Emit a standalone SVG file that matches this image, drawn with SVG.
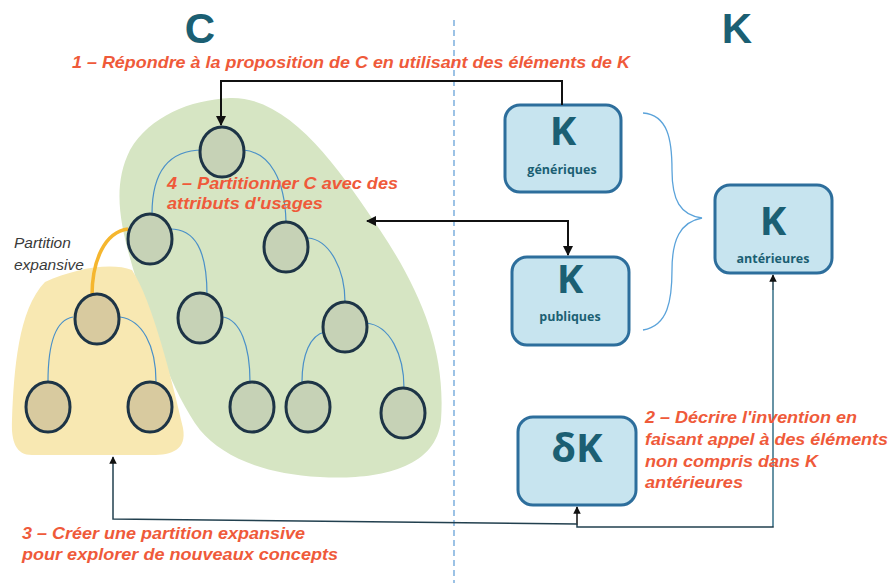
<svg xmlns="http://www.w3.org/2000/svg" width="895" height="583" viewBox="0 0 895 583">
<defs>
<style>
.title{font-family:"Liberation Sans",Arial,sans-serif;font-weight:bold;font-size:42px;fill:#1B5F73;text-anchor:middle}
.box{fill:#C7E4EF;stroke:#2D6E9C;stroke-width:3}
.bk{font-family:"Open Sans","Liberation Sans",sans-serif;font-weight:bold;font-size:40px;fill:#1B5F73;text-anchor:middle}
.bs{font-family:"Open Sans","Liberation Sans",sans-serif;font-weight:bold;font-size:12.5px;fill:#1B5F73;text-anchor:middle}
.red{font-family:"Liberation Sans",Arial,sans-serif;font-weight:bold;font-style:italic;font-size:17px;fill:#EF5A3A}
.note{font-family:"Liberation Sans",Arial,sans-serif;font-style:italic;font-size:15.5px;fill:#3A3A3A}
.cg{fill:#C6D2B6;stroke:#1D3446;stroke-width:3}
.cy{fill:#D8CA9F;stroke:#1D3446;stroke-width:3}
.arc{fill:none;stroke:#4A90C8;stroke-width:1.2}
.conn{fill:none;stroke:#111;stroke-width:2}
</style>
<marker id="ah" viewBox="0 0 10 10" refX="9" refY="5" markerWidth="5" markerHeight="5" orient="auto-start-reverse">
<path d="M0,0 L10,5 L0,10 Z" fill="#111"/>
</marker>
</defs>
<rect width="895" height="583" fill="#fff"/>

<!-- divider -->
<line x1="454" y1="20" x2="454" y2="583" stroke="#5B9BD5" stroke-width="1.2" stroke-dasharray="6,4"/>

<!-- titles -->
<text class="title" x="200" y="43">C</text>
<text class="title" x="737" y="43">K</text>

<!-- blobs -->
<g id="green-area">
<path d="M230,98 C290,96 340,170 380,230 C420,290 446,350 441,420 C436,472 370,480 320,477 C262,474 222,456 200,430 C172,392 152,332 137,282 C122,232 110,190 130,150 C150,116 190,100 230,98 Z" fill="#D6E5C3"/>
</g>
<g id="yellow-area">
<path d="M45,282 C75,268 112,262 132,270 C152,300 172,380 183,428 C187,450 172,455 152,455 L32,455 C16,455 11,442 12,420 C14,370 18,310 45,282 Z" fill="#F8E8B2"/>
</g>

<!-- tree links -->
<g id="tree-links">
<path class="arc" d="M203,150 C170,150 152,170 152,214"/>
<path class="arc" d="M243,150 C270,152 285,180 286,222"/>
<path class="arc" d="M170,229 C195,229 207,250 207,295"/>
<path class="arc" d="M223,317 C240,320 250,345 250,382"/>
<path class="arc" d="M308,238 C330,240 345,270 345,302"/>
<path class="arc" d="M325,332 C310,335 302,355 302,382"/>
<path class="arc" d="M366,323 C390,325 404,355 404,388"/>
<path class="arc" d="M73,317 C55,320 48,345 48,382"/>
<path class="arc" d="M120,317 C142,320 156,345 156,382"/>
<path d="M128,229 C105,232 92,260 92,296" fill="none" stroke="#F5B62E" stroke-width="3.5"/>
</g>

<!-- concept nodes -->
<g id="c1"><ellipse class="cg" cx="222" cy="152" rx="22" ry="25"/></g>
<g id="c2"><ellipse class="cg" cx="150" cy="239" rx="22" ry="25"/></g>
<g id="c3"><ellipse class="cg" cx="286" cy="247" rx="22" ry="25"/></g>
<g id="c4"><ellipse class="cy" cx="97" cy="319" rx="22" ry="25"/></g>
<g id="c5"><ellipse class="cg" cx="200" cy="318" rx="22" ry="25"/></g>
<g id="c6"><ellipse class="cg" cx="345" cy="327" rx="22" ry="25"/></g>
<g id="c7"><ellipse class="cy" cx="48" cy="407" rx="22" ry="25"/></g>
<g id="c8"><ellipse class="cy" cx="150" cy="407" rx="22" ry="25"/></g>
<g id="c9"><ellipse class="cg" cx="252" cy="407" rx="22" ry="25"/></g>
<g id="c10"><ellipse class="cg" cx="308" cy="407" rx="22" ry="25"/></g>
<g id="c11"><ellipse class="cg" cx="403" cy="413" rx="22" ry="25"/></g>

<!-- K boxes -->
<g id="k-generiques">
<rect class="box" x="505" y="105" width="116" height="87" rx="15"/>
<text class="bk" x="563" y="145">K</text>
<text class="bs" x="562" y="174">génériques</text>
</g>
<g id="k-publiques">
<rect class="box" x="512" y="257" width="117" height="88" rx="15"/>
<text class="bk" x="570" y="293">K</text>
<text class="bs" x="570" y="321">publiques</text>
</g>
<g id="k-anterieures">
<rect class="box" x="715" y="185" width="117" height="88" rx="15"/>
<text class="bk" x="773" y="235">K</text>
<text class="bs" x="773" y="263">antérieures</text>
</g>
<g id="delta-k">
<rect class="box" x="518" y="417" width="118" height="88" rx="15"/>
<text class="bk" x="577" y="462">δK</text>
</g>

<!-- brace -->
<path d="M643,113 C668,115 672,140 672,170 C672,200 680,215 702,218 C680,222 672,240 672,270 C672,300 668,326 643,330" fill="none" stroke="#5BA3DA" stroke-width="1.3"/>

<!-- connectors -->
<g id="connectors">
<path class="conn" d="M562,105 L562,81 L221,81 L221,125" marker-end="url(#ah)"/>
<path class="conn" d="M367,221 L568,221 L568,255" marker-start="url(#ah)" marker-end="url(#ah)"/>
<path d="M577,525 L577,507" fill="none" stroke="#111" stroke-width="1.5" marker-end="url(#ah)"/>
<path d="M577,524 L113,519 L113,457" fill="none" stroke="#22404F" stroke-width="1.5" marker-end="url(#ah)"/>
<path d="M577,525 L577,527 L773,527 L773,275" fill="none" stroke="#22404F" stroke-width="1.5" marker-end="url(#ah)"/>
<line x1="773" y1="290" x2="773" y2="526" stroke="#6D9FB5" stroke-width="1.5"/>
</g>

<!-- labels -->
<text class="red" x="72" y="68" textLength="558" lengthAdjust="spacingAndGlyphs">1 – Répondre à la proposition de C en utilisant des éléments de K</text>
<text class="red" x="167" y="189" textLength="231" lengthAdjust="spacingAndGlyphs">4 – Partitionner C avec des</text>
<text class="red" x="167" y="209" textLength="156" lengthAdjust="spacingAndGlyphs">attributs d'usages</text>
<text class="red" x="645" y="423" textLength="212" lengthAdjust="spacingAndGlyphs">2 – Décrire l'invention en</text>
<text class="red" x="645" y="445" textLength="243" lengthAdjust="spacingAndGlyphs">faisant appel à des éléments</text>
<text class="red" x="645" y="467" textLength="173" lengthAdjust="spacingAndGlyphs">non compris dans K</text>
<text class="red" x="645" y="488" textLength="98" lengthAdjust="spacingAndGlyphs">antérieures</text>
<text class="red" x="22" y="539" textLength="283" lengthAdjust="spacingAndGlyphs">3 – Créer une partition expansive</text>
<text class="red" x="22" y="560" textLength="316" lengthAdjust="spacingAndGlyphs">pour explorer de nouveaux concepts</text>
<text class="note" x="14" y="248">Partition</text>
<text class="note" x="14" y="270">expansive</text>
</svg>
